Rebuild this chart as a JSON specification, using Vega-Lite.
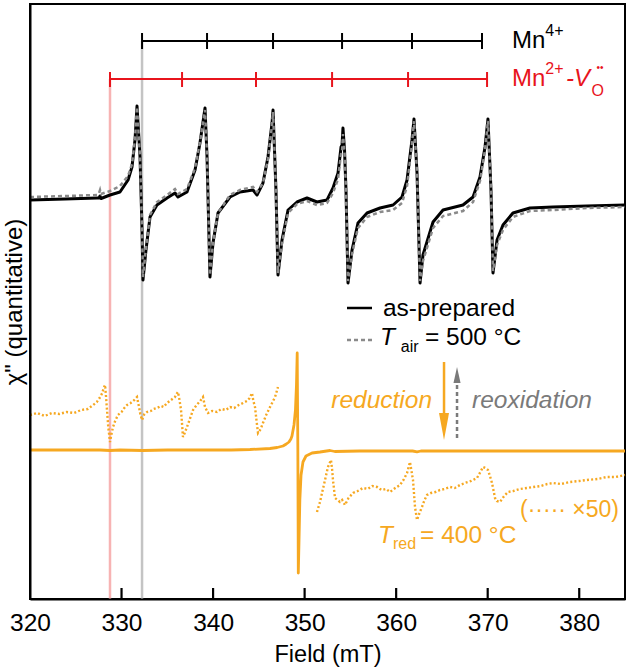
{
"$schema": "https://vega.github.io/schema/vega-lite/v6.json",
"width": 595, "height": 595,
"autosize": {"type": "none"},
"padding": {"left": 30, "top": 4, "right": 5, "bottom": 72},
"config": {"font": "Liberation Sans", "view": {"stroke": "black", "strokeWidth": 2}, "axis": {"grid": false}},
"datasets": {
"asPrepared": [
{"B":320.00,"chi":399},{"B":323.82,"chi":400},{"B":327.32,"chi":401},{"B":327.54,"chi":401},{"B":327.65,"chi":403},{"B":327.76,"chi":400.5},{"B":328.74,"chi":404},{"B":329.83,"chi":407},{"B":330.71,"chi":419},{"B":331.14,"chi":432},{"B":331.47,"chi":459},{"B":331.69,"chi":493},{"B":332.02,"chi":442},{"B":332.24,"chi":369},{"B":332.34,"chi":319},{"B":332.67,"chi":349},{"B":333.11,"chi":382},{"B":333.87,"chi":394},{"B":334.97,"chi":401},{"B":335.84,"chi":406},{"B":336.17,"chi":402},{"B":337.15,"chi":407},{"B":338.03,"chi":429},{"B":338.57,"chi":456},{"B":339.12,"chi":491},{"B":339.34,"chi":442},{"B":339.66,"chi":322},{"B":339.99,"chi":356},{"B":340.54,"chi":386},{"B":341.85,"chi":402},{"B":342.94,"chi":407},{"B":344.36,"chi":409},{"B":344.80,"chi":404},{"B":345.45,"chi":416},{"B":346.00,"chi":442},{"B":346.44,"chi":476},{"B":346.55,"chi":489},{"B":346.87,"chi":409},{"B":347.09,"chi":324},{"B":347.53,"chi":359},{"B":348.19,"chi":389},{"B":349.17,"chi":397},{"B":350.26,"chi":401},{"B":351.35,"chi":397},{"B":352.45,"chi":399},{"B":353.10,"chi":411},{"B":353.65,"chi":426},{"B":353.98,"chi":452},{"B":354.09,"chi":454},{"B":354.19,"chi":471},{"B":354.36,"chi":449},{"B":354.52,"chi":409},{"B":354.74,"chi":316},{"B":355.18,"chi":349},{"B":355.83,"chi":376},{"B":356.82,"chi":386},{"B":358.24,"chi":391},{"B":359.66,"chi":394},{"B":360.64,"chi":402},{"B":361.19,"chi":419},{"B":361.73,"chi":459},{"B":361.95,"chi":480},{"B":362.28,"chi":426},{"B":362.61,"chi":316},{"B":362.93,"chi":344},{"B":364.03,"chi":377},{"B":365.12,"chi":389},{"B":367.30,"chi":394},{"B":368.40,"chi":402},{"B":369.16,"chi":422},{"B":369.71,"chi":452},{"B":370.03,"chi":480},{"B":370.36,"chi":409},{"B":370.58,"chi":326},{"B":371.02,"chi":359},{"B":371.67,"chi":374},{"B":372.76,"chi":386},{"B":374.62,"chi":391},{"B":377.13,"chi":392},{"B":380.85,"chi":393},{"B":385.00,"chi":394}
],
"tAir500": [
{"B":320.00,"chi":402},{"B":323.82,"chi":403},{"B":327.32,"chi":404},{"B":327.54,"chi":406},{"B":327.65,"chi":409},{"B":327.76,"chi":405},{"B":328.74,"chi":408},{"B":329.83,"chi":413},{"B":330.71,"chi":423},{"B":331.14,"chi":435},{"B":331.47,"chi":460},{"B":331.69,"chi":492},{"B":332.02,"chi":442},{"B":332.24,"chi":369},{"B":332.34,"chi":322},{"B":332.67,"chi":351},{"B":333.11,"chi":384},{"B":333.87,"chi":397},{"B":334.97,"chi":404},{"B":335.84,"chi":410},{"B":336.17,"chi":405},{"B":337.15,"chi":410},{"B":338.03,"chi":431},{"B":338.57,"chi":457},{"B":339.12,"chi":489},{"B":339.34,"chi":442},{"B":339.66,"chi":324},{"B":339.99,"chi":356},{"B":340.54,"chi":386},{"B":341.85,"chi":404},{"B":342.94,"chi":409},{"B":344.36,"chi":412},{"B":344.80,"chi":407},{"B":345.45,"chi":416},{"B":346.00,"chi":440},{"B":346.44,"chi":474},{"B":346.55,"chi":487},{"B":346.87,"chi":409},{"B":347.09,"chi":326},{"B":347.53,"chi":356},{"B":348.19,"chi":386},{"B":349.17,"chi":395},{"B":350.26,"chi":398},{"B":351.35,"chi":394},{"B":352.45,"chi":396},{"B":353.10,"chi":406},{"B":353.65,"chi":420},{"B":353.98,"chi":445},{"B":354.09,"chi":448},{"B":354.19,"chi":465},{"B":354.36,"chi":446},{"B":354.52,"chi":409},{"B":354.74,"chi":318},{"B":355.18,"chi":345},{"B":355.83,"chi":371},{"B":356.82,"chi":382},{"B":358.24,"chi":387},{"B":359.66,"chi":389},{"B":360.64,"chi":396},{"B":361.19,"chi":413},{"B":361.73,"chi":455},{"B":361.95,"chi":478},{"B":362.28,"chi":426},{"B":362.61,"chi":318},{"B":362.93,"chi":338},{"B":364.03,"chi":371},{"B":365.12,"chi":383},{"B":367.30,"chi":388},{"B":368.40,"chi":397},{"B":369.16,"chi":418},{"B":369.71,"chi":449},{"B":370.03,"chi":478},{"B":370.36,"chi":409},{"B":370.58,"chi":328},{"B":371.02,"chi":354},{"B":371.67,"chi":369},{"B":372.76,"chi":382},{"B":374.62,"chi":388},{"B":377.13,"chi":389},{"B":380.85,"chi":391},{"B":385.00,"chi":392}
],
"tRed400": [
{"B":320.0,"chi":149},{"B":324.0,"chi":149},{"B":327.65,"chi":149},{"B":328.74,"chi":148.5},{"B":329.83,"chi":149},{"B":332.3,"chi":148.5},{"B":335.0,"chi":149},{"B":338.57,"chi":149},{"B":342.0,"chi":149},{"B":344.03,"chi":149.5},{"B":346.22,"chi":150.5},{"B":347.0,"chi":151.5},{"B":347.64,"chi":153},{"B":348.0,"chi":155},{"B":348.29,"chi":157},{"B":348.5,"chi":160},{"B":348.62,"chi":163},{"B":348.84,"chi":174},{"B":349.0,"chi":189},{"B":349.11,"chi":214},{"B":349.19,"chi":246},{"B":349.26,"chi":150},{"B":349.31,"chi":26},{"B":349.39,"chi":59},{"B":349.48,"chi":99},{"B":349.61,"chi":124},{"B":349.82,"chi":137},{"B":350.15,"chi":143},{"B":350.81,"chi":146},{"B":351.68,"chi":147},{"B":352.77,"chi":148.5},{"B":353.3,"chi":147.5},{"B":356.0,"chi":148},{"B":360.42,"chi":148},{"B":361.8,"chi":148},{"B":362.28,"chi":147.2},{"B":362.7,"chi":148},{"B":366.0,"chi":148},{"B":371.34,"chi":148},{"B":378.0,"chi":148},{"B":385.0,"chi":148}
],
"tRed400x50a": [
{"B":320.0,"chi":184},{"B":320.8,"chi":186},{"B":321.6,"chi":183},{"B":322.4,"chi":186},{"B":323.2,"chi":185},{"B":324.0,"chi":187},{"B":324.8,"chi":186},{"B":325.6,"chi":189},{"B":326.3,"chi":190},{"B":326.9,"chi":194},{"B":327.3,"chi":197},{"B":327.6,"chi":201},{"B":327.9,"chi":206},{"B":328.05,"chi":211},{"B":328.2,"chi":214},{"B":328.3,"chi":203},{"B":328.41,"chi":189},{"B":328.55,"chi":172},{"B":328.74,"chi":157},{"B":328.9,"chi":165},{"B":329.07,"chi":172},{"B":329.3,"chi":178},{"B":329.61,"chi":184},{"B":330.0,"chi":187},{"B":330.3,"chi":191},{"B":330.6,"chi":194},{"B":331.0,"chi":196},{"B":331.4,"chi":199},{"B":331.69,"chi":202},{"B":331.8,"chi":197},{"B":331.91,"chi":192},{"B":332.05,"chi":185},{"B":332.24,"chi":179},{"B":332.5,"chi":185},{"B":332.78,"chi":187},{"B":333.2,"chi":188},{"B":333.5,"chi":190},{"B":333.87,"chi":191},{"B":334.3,"chi":193},{"B":334.6,"chi":192},{"B":334.97,"chi":196},{"B":335.4,"chi":199},{"B":335.84,"chi":202},{"B":336.0,"chi":205},{"B":336.17,"chi":207},{"B":336.35,"chi":198},{"B":336.5,"chi":189},{"B":336.71,"chi":162},{"B":336.9,"chi":166},{"B":337.15,"chi":172},{"B":337.5,"chi":181},{"B":337.81,"chi":189},{"B":338.2,"chi":194},{"B":338.6,"chi":198},{"B":338.9,"chi":202},{"B":339.12,"chi":192},{"B":339.45,"chi":186},{"B":339.9,"chi":188},{"B":340.43,"chi":187},{"B":340.9,"chi":190},{"B":341.4,"chi":189},{"B":341.85,"chi":192},{"B":342.3,"chi":191},{"B":342.8,"chi":194},{"B":343.27,"chi":196},{"B":343.7,"chi":198},{"B":344.0,"chi":201},{"B":344.25,"chi":206},{"B":344.4,"chi":198},{"B":344.58,"chi":192},{"B":344.75,"chi":178},{"B":344.91,"chi":166},{"B":345.2,"chi":170},{"B":345.45,"chi":176},{"B":345.8,"chi":184},{"B":346.22,"chi":192},{"B":346.5,"chi":197},{"B":346.77,"chi":202},{"B":346.9,"chi":206},{"B":347.09,"chi":212}
],
"tRed400x50b": [
{"B":351.35,"chi":87},{"B":351.68,"chi":97},{"B":351.95,"chi":108},{"B":352.23,"chi":119},{"B":352.55,"chi":132},{"B":352.88,"chi":139},{"B":353.0,"chi":130},{"B":353.1,"chi":119},{"B":353.32,"chi":101},{"B":353.6,"chi":99},{"B":353.86,"chi":97},{"B":354.1,"chi":99},{"B":354.41,"chi":94},{"B":354.8,"chi":101},{"B":355.29,"chi":106},{"B":355.8,"chi":108},{"B":356.38,"chi":111},{"B":356.9,"chi":110},{"B":357.4,"chi":113},{"B":357.91,"chi":112},{"B":358.4,"chi":109},{"B":358.9,"chi":110},{"B":359.33,"chi":107},{"B":359.9,"chi":111},{"B":360.42,"chi":114},{"B":360.8,"chi":119},{"B":361.19,"chi":126},{"B":361.51,"chi":137},{"B":361.84,"chi":119},{"B":362.06,"chi":92},{"B":362.28,"chi":79},{"B":362.55,"chi":86},{"B":362.82,"chi":92},{"B":363.1,"chi":99},{"B":363.37,"chi":104},{"B":363.8,"chi":106},{"B":364.3,"chi":107},{"B":364.79,"chi":109},{"B":365.3,"chi":110},{"B":365.9,"chi":112},{"B":366.4,"chi":111},{"B":366.98,"chi":114},{"B":367.5,"chi":116},{"B":368.2,"chi":118},{"B":368.83,"chi":121},{"B":369.2,"chi":127},{"B":369.49,"chi":132},{"B":369.75,"chi":131},{"B":370.03,"chi":129},{"B":370.25,"chi":123},{"B":370.47,"chi":116},{"B":370.65,"chi":108},{"B":370.8,"chi":101},{"B":371.0,"chi":98},{"B":371.34,"chi":97},{"B":371.8,"chi":103},{"B":372.22,"chi":107},{"B":372.8,"chi":108},{"B":373.5,"chi":110},{"B":374.29,"chi":111},{"B":375.0,"chi":112},{"B":375.8,"chi":113},{"B":376.5,"chi":115},{"B":377.13,"chi":116},{"B":378.0,"chi":115},{"B":379.0,"chi":117},{"B":380.0,"chi":118},{"B":380.85,"chi":119},{"B":382.0,"chi":120},{"B":383.0,"chi":122},{"B":384.0,"chi":122},{"B":385.0,"chi":124}
],
"fieldTicks": [{"B":330,"lo":0,"hi":11},{"B":340,"lo":0,"hi":11},{"B":350,"lo":0,"hi":11},{"B":360,"lo":0,"hi":11},{"B":370,"lo":0,"hi":11},{"B":380,"lo":0,"hi":11}],
"refLines": [{"site":"Mn2+-VO","B":328.74,"top":520},{"site":"Mn4+","B":332.24,"top":558}],
"combs": [{"site":"Mn4+","B":332.24,"B2":369.38,"chi":558},{"site":"Mn2+-VO","B":328.74,"B2":369.93,"chi":520}],
"combTicks": [
{"site":"Mn4+","B":332.24,"lo":550,"hi":566},{"site":"Mn4+","B":339.34,"lo":550,"hi":566},{"site":"Mn4+","B":346.55,"lo":550,"hi":566},{"site":"Mn4+","B":354.09,"lo":550,"hi":566},{"site":"Mn4+","B":361.73,"lo":550,"hi":566},{"site":"Mn4+","B":369.38,"lo":550,"hi":566},
{"site":"Mn2+-VO","B":328.74,"lo":512,"hi":527},{"site":"Mn2+-VO","B":336.61,"lo":512,"hi":527},{"site":"Mn2+-VO","B":344.69,"lo":512,"hi":527},{"site":"Mn2+-VO","B":353.00,"lo":512,"hi":527},{"site":"Mn2+-VO","B":361.30,"lo":512,"hi":527},{"site":"Mn2+-VO","B":369.93,"lo":512,"hi":527}
]
},
"layer": [
{"data": {"name": "refLines"}, "transform": [{"filter": "datum.site == 'Mn2+-VO'"}],
 "mark": {"type": "rule", "color": "#f7b3b3", "strokeWidth": 2.5},
 "encoding": {"x": {"field": "B", "type": "quantitative"}, "y": {"field": "top", "type": "quantitative"}, "y2": {"datum": 0}}},
{"data": {"name": "refLines"}, "transform": [{"filter": "datum.site == 'Mn4+'"}],
 "mark": {"type": "rule", "color": "#c4c4c4", "strokeWidth": 2.5},
 "encoding": {"x": {"field": "B", "type": "quantitative"}, "y": {"field": "top", "type": "quantitative"}, "y2": {"datum": 0}}},
{"data": {"name": "fieldTicks"},
 "mark": {"type": "rule", "color": "black", "strokeWidth": 2.2},
 "encoding": {"x": {"field": "B", "type": "quantitative"}, "y": {"field": "lo", "type": "quantitative"}, "y2": {"field": "hi"}}},
{"data": {"name": "combs"}, "transform": [{"filter": "datum.site == 'Mn4+'"}],
 "mark": {"type": "rule", "color": "black", "strokeWidth": 2},
 "encoding": {"x": {"field": "B", "type": "quantitative"}, "x2": {"field": "B2"}, "y": {"field": "chi", "type": "quantitative"}}},
{"data": {"name": "combs"}, "transform": [{"filter": "datum.site == 'Mn2+-VO'"}],
 "mark": {"type": "rule", "color": "#e8141c", "strokeWidth": 2},
 "encoding": {"x": {"field": "B", "type": "quantitative"}, "x2": {"field": "B2"}, "y": {"field": "chi", "type": "quantitative"}}},
{"data": {"name": "combTicks"}, "transform": [{"filter": "datum.site == 'Mn4+'"}],
 "mark": {"type": "rule", "color": "black", "strokeWidth": 2},
 "encoding": {"x": {"field": "B", "type": "quantitative"}, "y": {"field": "lo", "type": "quantitative"}, "y2": {"field": "hi"}}},
{"data": {"name": "combTicks"}, "transform": [{"filter": "datum.site == 'Mn2+-VO'"}],
 "mark": {"type": "rule", "color": "#e8141c", "strokeWidth": 2},
 "encoding": {"x": {"field": "B", "type": "quantitative"}, "y": {"field": "lo", "type": "quantitative"}, "y2": {"field": "hi"}}},
{"data": {"name": "asPrepared"},
 "mark": {"type": "line", "color": "black", "strokeWidth": 3, "strokeJoin": "round"},
 "encoding": {
  "x": {"field": "B", "type": "quantitative", "scale": {"domain": [320, 385], "nice": false, "zero": false},
   "axis": {"title": "Field (mT)", "values": [320, 330, 340, 350, 360, 370, 380], "zindex": 1, "ticks": false, "domainColor": "black", "domainWidth": 2, "labelFontSize": 24.5, "labelColor": "black", "labelFlush": false, "labelPadding": 12, "titleFontSize": 23.5, "titleFontWeight": "normal", "titleColor": "black", "titlePadding": 8}},
  "y": {"field": "chi", "type": "quantitative", "scale": {"domain": [0, 595], "nice": false, "zero": false},
   "axis": {"title": "χ\" (quantitative)", "ticks": false, "labels": false, "zindex": 1, "domainColor": "black", "domainWidth": 2, "titleFontSize": 24, "titleFontWeight": "normal", "titleColor": "black", "titlePadding": 4}}}},
{"data": {"name": "tAir500"},
 "mark": {"type": "line", "color": "#8a8a8a", "strokeWidth": 2.5, "strokeDash": [4, 3]},
 "encoding": {"x": {"field": "B", "type": "quantitative"}, "y": {"field": "chi", "type": "quantitative"}}},
{"data": {"name": "tRed400"},
 "mark": {"type": "line", "color": "#f6a821", "strokeWidth": 2.8, "strokeJoin": "round"},
 "encoding": {"x": {"field": "B", "type": "quantitative"}, "y": {"field": "chi", "type": "quantitative"}}},
{"data": {"name": "tRed400x50a"},
 "mark": {"type": "line", "color": "#f6a821", "strokeWidth": 2.4, "strokeDash": [2, 2.2]},
 "encoding": {"x": {"field": "B", "type": "quantitative"}, "y": {"field": "chi", "type": "quantitative"}}},
{"data": {"name": "tRed400x50b"},
 "mark": {"type": "line", "color": "#f6a821", "strokeWidth": 2.4, "strokeDash": [2, 2.2]},
 "encoding": {"x": {"field": "B", "type": "quantitative"}, "y": {"field": "chi", "type": "quantitative"}}},
{"data": {"values": [{"k": "solid"}]},
 "mark": {"type": "rule", "color": "black", "strokeWidth": 2.5},
 "encoding": {"x": {"datum": 354.63}, "x2": {"datum": 357.36}, "y": {"datum": 291}}},
{"data": {"values": [{"k": "dashed"}]},
 "mark": {"type": "rule", "color": "#8a8a8a", "strokeWidth": 2.4, "strokeDash": [4, 3]},
 "encoding": {"x": {"datum": 354.63}, "x2": {"datum": 357.36}, "y": {"datum": 259}}},
{"data": {"values": [{"k": "red arrow"}]},
 "mark": {"type": "rule", "color": "#f6a821", "strokeWidth": 2.5},
 "encoding": {"x": {"datum": 365.23}, "y": {"datum": 237}, "y2": {"datum": 180}}},
{"data": {"values": [{"k": "red head"}]},
 "mark": {"type": "point", "shape": "M-0.37,-1L0.37,-1L0,1Z", "filled": true, "opacity": 1, "color": "#f6a821", "size": 729},
 "encoding": {"x": {"datum": 365.23}, "y": {"datum": 172.5}}},
{"data": {"values": [{"k": "ox arrow"}]},
 "mark": {"type": "rule", "color": "#7a7a7a", "strokeWidth": 2.5, "strokeDash": [4, 3]},
 "encoding": {"x": {"datum": 366.65}, "y": {"datum": 161}, "y2": {"datum": 220}}},
{"data": {"values": [{"k": "ox head"}]},
 "mark": {"type": "point", "shape": "M0,-1L0.44,1L-0.44,1Z", "filled": true, "opacity": 1, "color": "#7a7a7a", "size": 256},
 "encoding": {"x": {"datum": 366.65}, "y": {"datum": 224}}},
{"data": {"values": [{"t": "Mn"}]},
 "mark": {"type": "text", "align": "left", "baseline": "alphabetic", "fontSize": 24, "color": "black"},
 "encoding": {"x": {"datum": 372.66}, "y": {"datum": 551}, "text": {"field": "t"}}},
{"data": {"values": [{"t": "4+"}]},
 "mark": {"type": "text", "align": "left", "baseline": "alphabetic", "fontSize": 16, "color": "black"},
 "encoding": {"x": {"datum": 376.3}, "y": {"datum": 563}, "text": {"field": "t"}}},
{"data": {"values": [{"t": "Mn"}]},
 "mark": {"type": "text", "align": "left", "baseline": "alphabetic", "fontSize": 24, "color": "#e8141c"},
 "encoding": {"x": {"datum": 372.66}, "y": {"datum": 513}, "text": {"field": "t"}}},
{"data": {"values": [{"t": "2+"}]},
 "mark": {"type": "text", "align": "left", "baseline": "alphabetic", "fontSize": 16, "color": "#e8141c"},
 "encoding": {"x": {"datum": 376.3}, "y": {"datum": 525}, "text": {"field": "t"}}},
{"data": {"values": [{"t": "-V"}]},
 "mark": {"type": "text", "align": "left", "baseline": "alphabetic", "fontSize": 24, "fontStyle": "italic", "color": "#e8141c"},
 "encoding": {"x": {"datum": 378.55}, "y": {"datum": 513}, "text": {"field": "t"}}},
{"data": {"values": [{"t": "O"}]},
 "mark": {"type": "text", "align": "left", "baseline": "alphabetic", "fontSize": 16, "color": "#e8141c"},
 "encoding": {"x": {"datum": 381.35}, "y": {"datum": 503}, "text": {"field": "t"}}},
{"data": {"values": [{"t": "••"}]},
 "mark": {"type": "text", "align": "center", "baseline": "middle", "fontSize": 10, "color": "#e8141c"},
 "encoding": {"x": {"datum": 382.27}, "y": {"datum": 531}, "text": {"field": "t"}}},
{"data": {"values": [{"t": "as-prepared"}]},
 "mark": {"type": "text", "align": "left", "baseline": "alphabetic", "fontSize": 24.5, "color": "black"},
 "encoding": {"x": {"datum": 358.56}, "y": {"datum": 283}, "text": {"field": "t"}}},
{"data": {"values": [{"t": "T"}]},
 "mark": {"type": "text", "align": "left", "baseline": "alphabetic", "fontSize": 24.5, "fontStyle": "italic", "color": "black"},
 "encoding": {"x": {"datum": 358.24}, "y": {"datum": 254}, "text": {"field": "t"}}},
{"data": {"values": [{"t": "air"}]},
 "mark": {"type": "text", "align": "left", "baseline": "alphabetic", "fontSize": 16, "color": "black"},
 "encoding": {"x": {"datum": 360.5}, "y": {"datum": 247}, "text": {"field": "t"}}},
{"data": {"values": [{"t": "= 500 °C"}]},
 "mark": {"type": "text", "align": "left", "baseline": "alphabetic", "fontSize": 24.5, "color": "black"},
 "encoding": {"x": {"datum": 363.15}, "y": {"datum": 254}, "text": {"field": "t"}}},
{"data": {"values": [{"t": "reduction"}]},
 "mark": {"type": "text", "align": "right", "baseline": "alphabetic", "fontSize": 24.5, "fontStyle": "italic", "color": "#f6a821"},
 "encoding": {"x": {"datum": 363.92}, "y": {"datum": 191}, "text": {"field": "t"}}},
{"data": {"values": [{"t": "reoxidation"}]},
 "mark": {"type": "text", "align": "left", "baseline": "alphabetic", "fontSize": 24.5, "fontStyle": "italic", "color": "#7a7a7a"},
 "encoding": {"x": {"datum": 368.29}, "y": {"datum": 191}, "text": {"field": "t"}}},
{"data": {"values": [{"t": "(····· ×50)"}]},
 "mark": {"type": "text", "align": "left", "baseline": "alphabetic", "fontSize": 23, "color": "#f6a821"},
 "encoding": {"x": {"datum": 373.53}, "y": {"datum": 82}, "text": {"field": "t"}}},
{"data": {"values": [{"t": "T"}]},
 "mark": {"type": "text", "align": "left", "baseline": "alphabetic", "fontSize": 24.5, "fontStyle": "italic", "color": "#f6a821"},
 "encoding": {"x": {"datum": 358.02}, "y": {"datum": 56}, "text": {"field": "t"}}},
{"data": {"values": [{"t": "red"}]},
 "mark": {"type": "text", "align": "left", "baseline": "alphabetic", "fontSize": 16, "color": "#f6a821"},
 "encoding": {"x": {"datum": 359.66}, "y": {"datum": 50}, "text": {"field": "t"}}},
{"data": {"values": [{"t": "= 400 °C"}]},
 "mark": {"type": "text", "align": "left", "baseline": "alphabetic", "fontSize": 24.5, "color": "#f6a821"},
 "encoding": {"x": {"datum": 362.61}, "y": {"datum": 56}, "text": {"field": "t"}}}
]
}
